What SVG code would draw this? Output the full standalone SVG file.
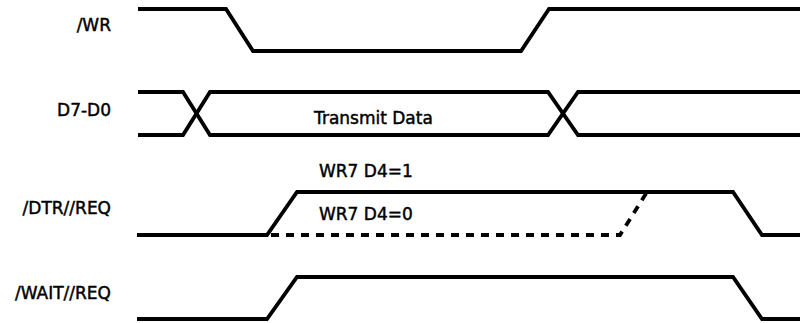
<svg xmlns="http://www.w3.org/2000/svg" width="800" height="323" viewBox="0 0 800 323">
<style>
.wave{fill:none;stroke:#000;stroke-width:3.8;stroke-linejoin:miter;stroke-linecap:butt}
.dash{fill:none;stroke:#000;stroke-width:3.8;stroke-dasharray:8 7}
text{font-family:"DejaVu Sans","Liberation Sans",Arial,sans-serif;font-size:17px;fill:#000;stroke:#000;stroke-width:0.45}
.lbl{text-anchor:end}
</style>
<rect width="800" height="323" fill="#fff"/>
<g id="sig-wr">
<text class="lbl" x="111" y="31">/WR</text>
<path class="wave" d="M138,9 H226 L253,51 H521 L549,9 H800"/>
</g>
<g id="sig-data">
<text class="lbl" x="111" y="115.5">D7-D0</text>
<path class="wave" d="M138,92 H183 L210,135 H548 L578,92 H800"/>
<path class="wave" d="M138,135 H183 L210,92 H548 L578,135 H800"/>
<text x="314" y="124">Transmit Data</text>
</g>
<g id="sig-dtr">
<text class="lbl" x="111" y="214">/DTR//REQ</text>
<path class="wave" d="M137,235 H267 L297,192 H733 L762,235 H800"/>
<text x="319" y="177">WR7 D4=1</text>
<text x="319" y="219.5">WR7 D4=0</text>
</g>
<g id="connectors">
<path class="dash" d="M271,235 H620 L647,192"/>
</g>
<g id="sig-wait">
<text class="lbl" x="111" y="299">/WAIT//REQ</text>
<path class="wave" d="M137,319 H267 L297,277 H733 L762,319 H800"/>
</g>
</svg>
